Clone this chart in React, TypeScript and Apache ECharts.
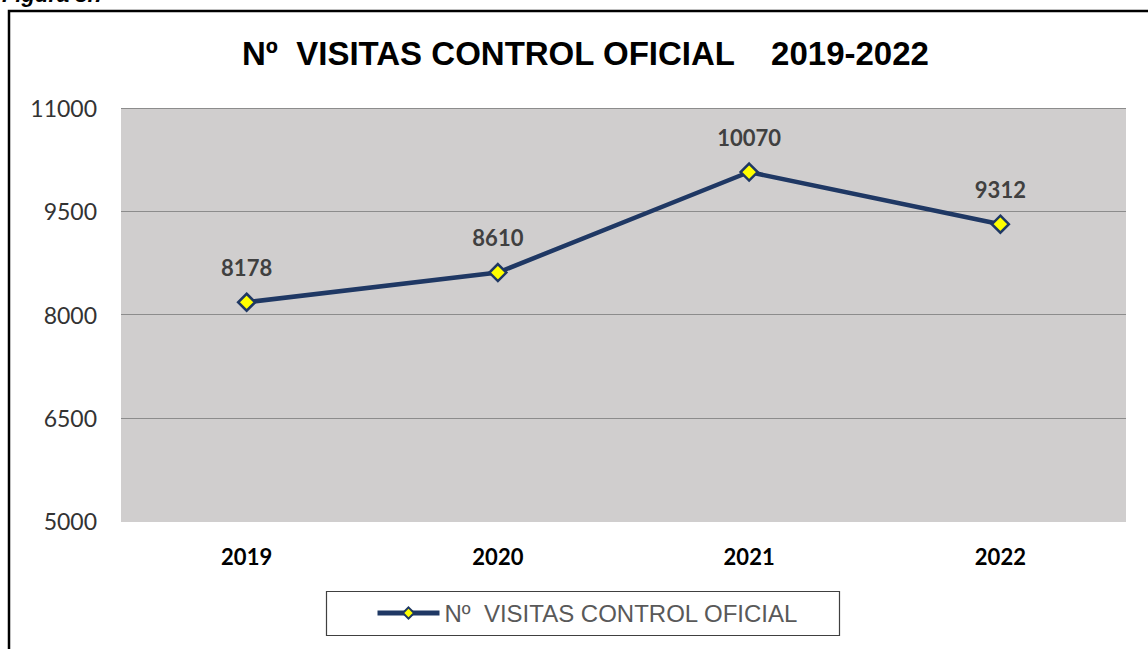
import React, { useEffect, useRef } from "react";
import * as echarts from "echarts";

const categories = ["2019", "2020", "2021", "2022"];
const visitas = [8178, 8610, 10070, 9312];
const seriesName = "Nº  VISITAS CONTROL OFICIAL";
const titleText = "Nº  VISITAS CONTROL OFICIAL    2019-2022";
const yMin = 5000;
const yMax = 11000;
const yInterval = 1500;

export default function App() {
  const ref = useRef<HTMLDivElement>(null);
  useEffect(() => {
    document.body.style.margin = "0";
    const chart = echarts.init(ref.current!, null, { renderer: "svg" });
    chart.setOption({
      animation: false,
      backgroundColor: "#ffffff",
      grid: { left: 121, right: 22, top: 108, bottom: 128, show: true, backgroundColor: "#D0CECE", borderWidth: 0 },
      xAxis: {
        type: "category",
        data: categories,
        boundaryGap: true,
        axisLine: { show: false },
        axisTick: { show: false },
        axisLabel: { margin: 24, fontFamily: "Lato", fontWeight: "bold", fontSize: 22, color: "#000000" },
      },
      yAxis: {
        type: "value",
        min: yMin,
        max: yMax,
        interval: yInterval,
        axisLine: { show: false },
        axisTick: { show: false },
        axisLabel: { margin: 24, fontFamily: "Lato", fontSize: 23, color: "#333333", formatter: (v: number) => String(v) },
        splitLine: { lineStyle: { color: ["#D0CECE", "#8C8C8C", "#8C8C8C", "#8C8C8C", "#8C8C8C"], width: 1 } },
      },
      legend: {
        left: 375,
        top: 601,
        padding: 0,
        itemWidth: 62,
        itemHeight: 14,
        itemGap: 4,
        lineStyle: { width: 5 },
        textStyle: { fontFamily: "Liberation Sans", fontSize: 24, color: "#595959" },
        data: [seriesName],
      },
      series: [
        {
          name: seriesName,
          type: "line",
          data: visitas,
          symbol: "diamond",
          symbolSize: 17,
          lineStyle: { color: "#1F3864", width: 4.5 },
          itemStyle: { color: "#FFFF00", borderColor: "#1F3864", borderWidth: 2.5 },
          label: {
            show: true,
            position: "top",
            distance: 14,
            fontFamily: "Lato",
            fontWeight: "bold",
            fontSize: 22,
            color: "#404040",
          },
        },
      ],
      graphic: [
        { type: "rect", z: -10, shape: { x: 9, y: 11, width: 1300, height: 800 }, style: { fill: "none", stroke: "#000000", lineWidth: 2.5 } },
        { type: "text", x: 2, y: -17, style: { text: "Figura 8.7", fontFamily: "Liberation Sans", fontWeight: "bold", fontStyle: "italic", fontSize: 22, fill: "#000000" } },
        { type: "rect", shape: { x: 326.5, y: 591.5, width: 513, height: 44 }, style: { fill: "#ffffff", stroke: "#404040", lineWidth: 1.2 }, z: -1 },
        {
          type: "text",
          x: 242,
          y: 53,
          style: { text: titleText, fontFamily: "Liberation Sans", fontWeight: "bold", fontSize: 33, fill: "#000000", align: "left", verticalAlign: "middle" },
        },
      ],
    });
    return () => chart.dispose();
  }, []);
  return <div ref={ref} style={{ position: "absolute", left: 0, top: 0, width: 1148, height: 649 }} />;
}
